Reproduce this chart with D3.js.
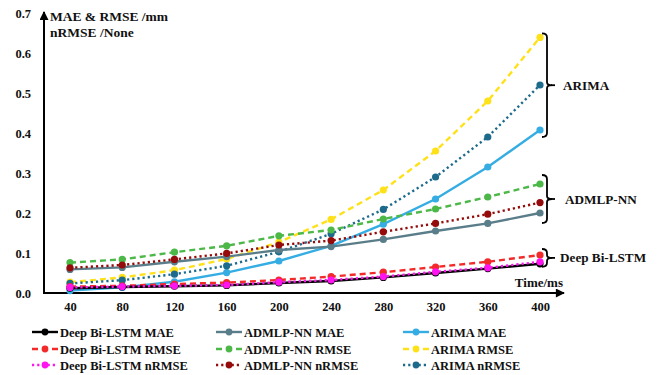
<!DOCTYPE html>
<html>
<head>
<meta charset="utf-8">
<script src="https://cdn.jsdelivr.net/npm/d3@7/dist/d3.min.js"></script>
<style>
  html, body { margin: 0; padding: 0; background: #fff; }
  svg { display: block; }
  svg text { font-family: 'Liberation Serif', 'Times New Roman', Times, serif !important; font-weight: 700; fill: #111; }
</style>
</head>
<body>
<svg id="chart" width="659" height="375"></svg>
<script>
// Prediction horizon (ms)
const times = [40, 80, 120, 160, 200, 240, 280, 320, 360, 400];

// Deep Bi-LSTM errors
const lstmMAE   = [0.012, 0.015, 0.017, 0.019, 0.025, 0.030, 0.039, 0.050, 0.061, 0.073];
const lstmRMSE  = [0.016, 0.018, 0.0225, 0.026, 0.0325, 0.041, 0.052, 0.065, 0.078, 0.095];
const lstmNRMSE = [0.014, 0.016, 0.018, 0.020, 0.027, 0.0325, 0.041, 0.053, 0.063, 0.078];

// ADMLP-NN errors
const admlpMAE   = [0.059, 0.064, 0.078, 0.091, 0.1075, 0.116, 0.134, 0.155, 0.174, 0.200];
const admlpRMSE  = [0.076, 0.084, 0.102, 0.118, 0.143, 0.1575, 0.185, 0.210, 0.240, 0.2725];
const admlpNRMSE = [0.063, 0.070, 0.084, 0.099, 0.120, 0.131, 0.153, 0.174, 0.197, 0.226];

// ARIMA errors
const arimaMAE   = [0.006, 0.014, 0.028, 0.051, 0.080, 0.118, 0.172, 0.235, 0.315, 0.4075];
const arimaRMSE  = [0.027, 0.039, 0.057, 0.085, 0.127, 0.184, 0.2575, 0.355, 0.480, 0.639];
const arimaNRMSE = [0.024, 0.032, 0.047, 0.068, 0.103, 0.148, 0.209, 0.290, 0.390, 0.520];

const yTicks = [0, 0.1, 0.2, 0.3, 0.4, 0.5, 0.6, 0.7];

const series = [
  { model: "ARIMA", metric: "MAE", values: arimaMAE, color: "#35ade3" },
  { model: "ARIMA", metric: "RMSE", values: arimaRMSE, color: "#ffe11a" },
  { model: "ARIMA", metric: "nRMSE", values: arimaNRMSE, color: "#1d6b8c" },
  { model: "ADMLP-NN", metric: "MAE", values: admlpMAE, color: "#5a7d8a" },
  { model: "ADMLP-NN", metric: "RMSE", values: admlpRMSE, color: "#4cb848" },
  { model: "ADMLP-NN", metric: "nRMSE", values: admlpNRMSE, color: "#950a0a" },
  { model: "Deep Bi-LSTM", metric: "RMSE", values: lstmRMSE, color: "#f22a2a" },
  { model: "Deep Bi-LSTM", metric: "MAE", values: lstmMAE, color: "#000000" },
  { model: "Deep Bi-LSTM", metric: "nRMSE", values: lstmNRMSE, color: "#ff14f0" }
];

const dashFor = { MAE: null, RMSE: "6,4", nRMSE: "2.2,3" };
const FONT = "'Liberation Serif', 'Times New Roman', serif";

const svg = d3.select("#chart").attr("font-family", FONT).attr("font-weight", "bold");
const x = d3.scaleLinear().domain([40, 400]).range([70, 540]);
const y = d3.scaleLinear().domain([0, 0.7]).range([293, 13]);
const axisX0 = 44;

// arrowhead
svg.append("defs").append("marker")
  .attr("id", "arrow")
  .attr("viewBox", "0 0 10 10")
  .attr("refX", 9).attr("refY", 5)
  .attr("markerWidth", 10).attr("markerHeight", 9)
  .attr("markerUnits", "userSpaceOnUse")
  .attr("orient", "auto")
  .append("path").attr("d", "M0,0 L10,5 L0,10 Z").attr("fill", "#000");

// x axis labels
const gx = svg.append("g")
  .attr("transform", `translate(0,${y(0)})`)
  .call(d3.axisBottom(x).tickValues(times).tickSize(0).tickPadding(9).tickFormat(d3.format("d")));
gx.attr("font-family", FONT).attr("font-size", 12.5);
gx.select(".domain").remove();
gx.selectAll("text").attr("font-family", FONT).attr("font-weight", "bold");

// y axis labels
const gy = svg.append("g")
  .attr("transform", `translate(${axisX0},0)`)
  .call(d3.axisLeft(y).tickValues(yTicks).tickSize(0).tickPadding(13).tickFormat(d3.format(".1f")));
gy.attr("font-family", FONT).attr("font-size", 12.5);
gy.select(".domain").remove();
gy.selectAll("text").attr("font-family", FONT).attr("font-weight", "bold");

// axis lines with arrows
svg.append("line")
  .attr("x1", axisX0).attr("y1", y(0) + 1).attr("x2", axisX0).attr("y2", 12)
  .attr("stroke", "#000").attr("stroke-width", 2).attr("marker-end", "url(#arrow)");
svg.append("line")
  .attr("x1", axisX0 - 1).attr("y1", y(0)).attr("x2", 564).attr("y2", y(0))
  .attr("stroke", "#000").attr("stroke-width", 2).attr("marker-end", "url(#arrow)");

// axis titles
svg.append("text").attr("x", 50).attr("y", 21).attr("font-size", 13.5).text("MAE & RMSE /mm");
svg.append("text").attr("x", 50).attr("y", 37).attr("font-size", 13.5).text("nRMSE /None");
svg.append("text").attr("x", 563).attr("y", 287).attr("text-anchor", "end").attr("font-size", 13).text("Time/ms");

// series lines and markers
const line = d3.line().x((d, i) => x(times[i])).y(d => y(d));
const plot = svg.append("g");
series.forEach(s => {
  const g = plot.append("g");
  g.append("path")
    .attr("d", line(s.values))
    .attr("fill", "none")
    .attr("stroke", s.color)
    .attr("stroke-width", 2.4)
    .attr("stroke-dasharray", dashFor[s.metric]);
  g.selectAll("circle").data(s.values).join("circle")
    .attr("cx", (d, i) => x(times[i]))
    .attr("cy", d => y(d))
    .attr("r", 3.6)
    .attr("fill", s.color);
});

// braces grouping the final values of each model
function brace(top, bottom) {
  const bx = 547, mid = (top + bottom) / 2;
  const p = `M${bx - 5},${top} Q${bx},${top} ${bx},${top + 4} L${bx},${mid - 3} Q${bx},${mid} ${bx + 5},${mid}
             Q${bx},${mid} ${bx},${mid + 3} L${bx},${bottom - 4} Q${bx},${bottom} ${bx - 5},${bottom}`;
  svg.append("path").attr("d", p).attr("fill", "none").attr("stroke", "#000").attr("stroke-width", 1.8);
  svg.append("line").attr("x1", bx + 4).attr("x2", bx + 8).attr("y1", mid).attr("y2", mid)
    .attr("stroke", "#000").attr("stroke-width", 1.8);
  return mid;
}
const last = a => a[a.length - 1];
const groups = [
  { label: "ARIMA", top: y(last(arimaRMSE)) - 4, bottom: y(last(arimaMAE)) + 7, lx: 563 },
  { label: "ADMLP-NN", top: y(last(admlpRMSE)) - 9, bottom: y(last(admlpMAE)) + 10, lx: 565 },
  { label: "Deep Bi-LSTM", top: y(last(lstmRMSE)) - 6, bottom: y(last(lstmMAE)) + 3, lx: 560 }
];
groups.forEach(gr => {
  const mid = brace(gr.top, gr.bottom);
  svg.append("text").attr("x", gr.lx).attr("y", mid + 4.5).attr("font-size", 13.2).text(gr.label);
});

// legend: one column per model, one row per metric
const legendCols = { "Deep Bi-LSTM": 32, "ADMLP-NN": 216, "ARIMA": 403 };
const legendRows = { MAE: 332, RMSE: 349, nRMSE: 365 };
const legend = svg.append("g");
series.forEach(s => {
  const lx = legendCols[s.model], ly = legendRows[s.metric];
  const g = legend.append("g");
  g.append("line").attr("x1", lx).attr("x2", lx + 26).attr("y1", ly).attr("y2", ly)
    .attr("stroke", s.color).attr("stroke-width", 2.4).attr("stroke-dasharray", dashFor[s.metric]);
  g.append("circle").attr("cx", lx + 13).attr("cy", ly).attr("r", 3.4).attr("fill", s.color);
  g.append("text").attr("x", lx + 28).attr("y", ly + 4.5).attr("font-size", 12.5).text(`${s.model} ${s.metric}`);
});
</script>
</body>
</html>
